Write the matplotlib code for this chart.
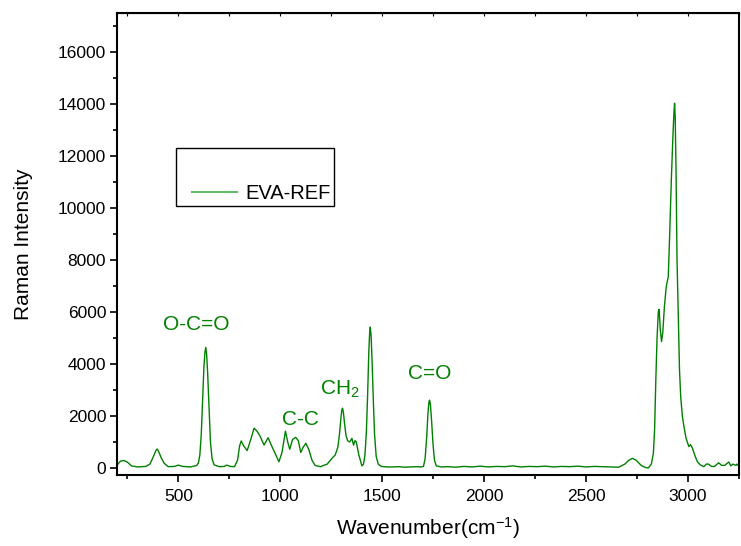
import matplotlib
matplotlib.use("Agg")
import matplotlib.pyplot as plt
from matplotlib.ticker import MultipleLocator
from matplotlib.legend_handler import HandlerLine2D

plt.rcParams['font.family'] = ['Liberation Sans', 'DejaVu Sans']
plt.rcParams['mathtext.fontset'] = 'custom'
plt.rcParams['mathtext.rm'] = 'Liberation Sans'
plt.rcParams['mathtext.it'] = 'Liberation Sans:italic'
plt.rcParams['mathtext.bf'] = 'Liberation Sans:bold'

# Spectrum (wavenumber cm-1, Raman intensity)
wavenumber = [
    200, 215, 232, 250, 270, 300, 320, 340, 360, 375, 388, 395, 402, 415, 430,
    450, 480, 500, 520, 560, 590, 598, 605, 612, 618, 625, 630, 634, 638, 643,
    650, 657, 665, 675, 700, 725, 737, 755, 775, 790, 800, 808, 820, 837, 855,
    871, 885, 900, 920, 940, 960, 975, 993, 1008, 1025, 1036, 1046, 1060, 1075,
    1088, 1100, 1112, 1125, 1140, 1155, 1170, 1196, 1230, 1253, 1269, 1282, 1290,
    1298, 1302, 1305, 1309, 1315, 1322, 1330, 1340, 1351, 1359, 1366, 1372, 1385,
    1400, 1408, 1415, 1422, 1428, 1434, 1438, 1441, 1445, 1450, 1456, 1462, 1470,
    1480, 1495, 1520, 1550, 1580, 1610, 1640, 1670, 1690, 1702, 1710, 1718, 1724,
    1729, 1732, 1736, 1742, 1749, 1756, 1765, 1790, 1820, 1860, 1900, 1940, 1980,
    2020, 2060, 2100, 2140, 2180, 2220, 2260, 2300, 2340, 2380, 2420, 2460, 2500,
    2540, 2580, 2620, 2660, 2690, 2710, 2727, 2745, 2770, 2790, 2805, 2820, 2830,
    2836, 2842, 2848, 2854, 2858, 2864, 2870, 2876, 2884, 2893, 2903, 2910, 2918,
    2926, 2931, 2934, 2937, 2941, 2946, 2952, 2958, 2964, 2972, 2980, 2990, 3004,
    3012, 3021, 3035, 3046, 3060, 3077, 3090, 3100, 3115, 3130, 3150, 3165, 3180,
    3200, 3210, 3220, 3235, 3240, 3250,
]
intensity = [
    120, 260, 290, 220, 80, 40, 50, 60, 150, 400, 650, 730, 650, 400, 180,
    50, 60, 110, 60, 40, 100, 200, 500, 1300, 2500, 3900, 4450, 4640, 4400, 3700,
    2300, 1000, 350, 120, 50, 60, 110, 60, 50, 300, 850, 1040, 850, 670, 1100,
    1530, 1420, 1230, 880, 1165, 800, 550, 240, 600, 1420, 1000, 720, 1100, 1180,
    1050, 600, 800, 950, 700, 300, 100, 50, 150, 370, 500, 800, 1300,
    2000, 2250, 2300, 2150, 1700, 1250, 1050, 1000, 1140, 880, 1050, 1010, 500,
    80, 150, 500, 1400, 2800, 4500, 5200, 5420, 5100, 4100, 2600, 1300, 450,
    150, 60, 40, 40, 50, 30, 40, 50, 40, 60, 350, 1200, 2100,
    2550, 2610, 2450, 1800, 900, 300, 80, 40, 50, 30, 60, 40, 70,
    40, 60, 50, 80, 40, 60, 50, 70, 40, 60, 50, 70, 40,
    60, 50, 40, 30, 150, 300, 370, 300, 100, 20, 0, 150, 570,
    1500, 3400, 5000, 6000, 6100, 5300, 4860, 5200, 6200, 6970, 7360, 9000, 11080,
    12800, 13700, 14030, 13500, 11500, 8000, 5950, 3800, 2740, 2000, 1590, 1150, 820,
    900, 770, 450, 240, 120, 50, 150, 150, 60, 60, 200, 100, 100,
    230, 80, 150, 100, 150, 60,
]

tick_x_major = 500
tick_x_minor = 250
tick_y_major = 2000
tick_y_minor = 1000

series_label = "EVA-REF"
annotations = ["O-C=O", "C-C", "CH$_2$", "C=O"]
annot_x = [586, 1100, 1291, 1732]
annot_y = [5150, 1500, 2600, 3250]

green = "#008000"

fig = plt.figure(figsize=(7.41, 5.46), dpi=100)
ax = fig.add_axes([117.3 / 741, 71 / 546, 621.7 / 741, 462 / 546])

line, = ax.plot(wavenumber, intensity, color=green, lw=1.0, label=series_label)

ax.set_xlim(200, 3250)
ax.set_ylim(-270, 17500)

ax.xaxis.set_major_locator(MultipleLocator(tick_x_major))
ax.xaxis.set_minor_locator(MultipleLocator(tick_x_minor))
ax.yaxis.set_major_locator(MultipleLocator(tick_y_major))
ax.yaxis.set_minor_locator(MultipleLocator(tick_y_minor))

for s in ax.spines.values():
    s.set_linewidth(1.5)

ax.tick_params(axis='both', which='major', direction='out', length=5, width=1.2,
               labelsize=12.5, top=False, right=False)
ax.tick_params(axis='both', which='minor', direction='out', length=3, width=1.2,
               top=False, right=False)
ax.tick_params(axis='x', which='both', pad=5)
ax.tick_params(axis='y', which='both', pad=3)
# top ticks small inward
secx = ax.secondary_xaxis('top')
secx.xaxis.set_major_locator(MultipleLocator(tick_x_minor))
secx.tick_params(direction='in', length=2, width=0.8, labeltop=False)

ax.set_xlabel("Wavenumber(cm$^{-1}$)", fontsize=15, labelpad=8)
ax.set_ylabel("Raman Intensity", fontsize=15, labelpad=18)

for t, x, y in zip(annotations, annot_x, annot_y):
    ax.text(x, y, t, color=green, fontsize=15, ha='center', va='bottom')

leg = ax.legend(handles=[line], loc='upper left', bbox_to_anchor=(0.0944, 0.708),
                borderaxespad=0, fancybox=False, edgecolor='black', fontsize=14.5,
                handlelength=2.9, handletextpad=0.4, title=" ", title_fontsize=16.5,
                borderpad=0.15, framealpha=1,
                handler_map={line: HandlerLine2D(xpad=0.65)})
leg.get_frame().set_linewidth(1.0)
for h in leg.legend_handles:
    h.set_color("#66bb66")
    h.set_linewidth(1.5)

fig.savefig("out.png", dpi=100)
